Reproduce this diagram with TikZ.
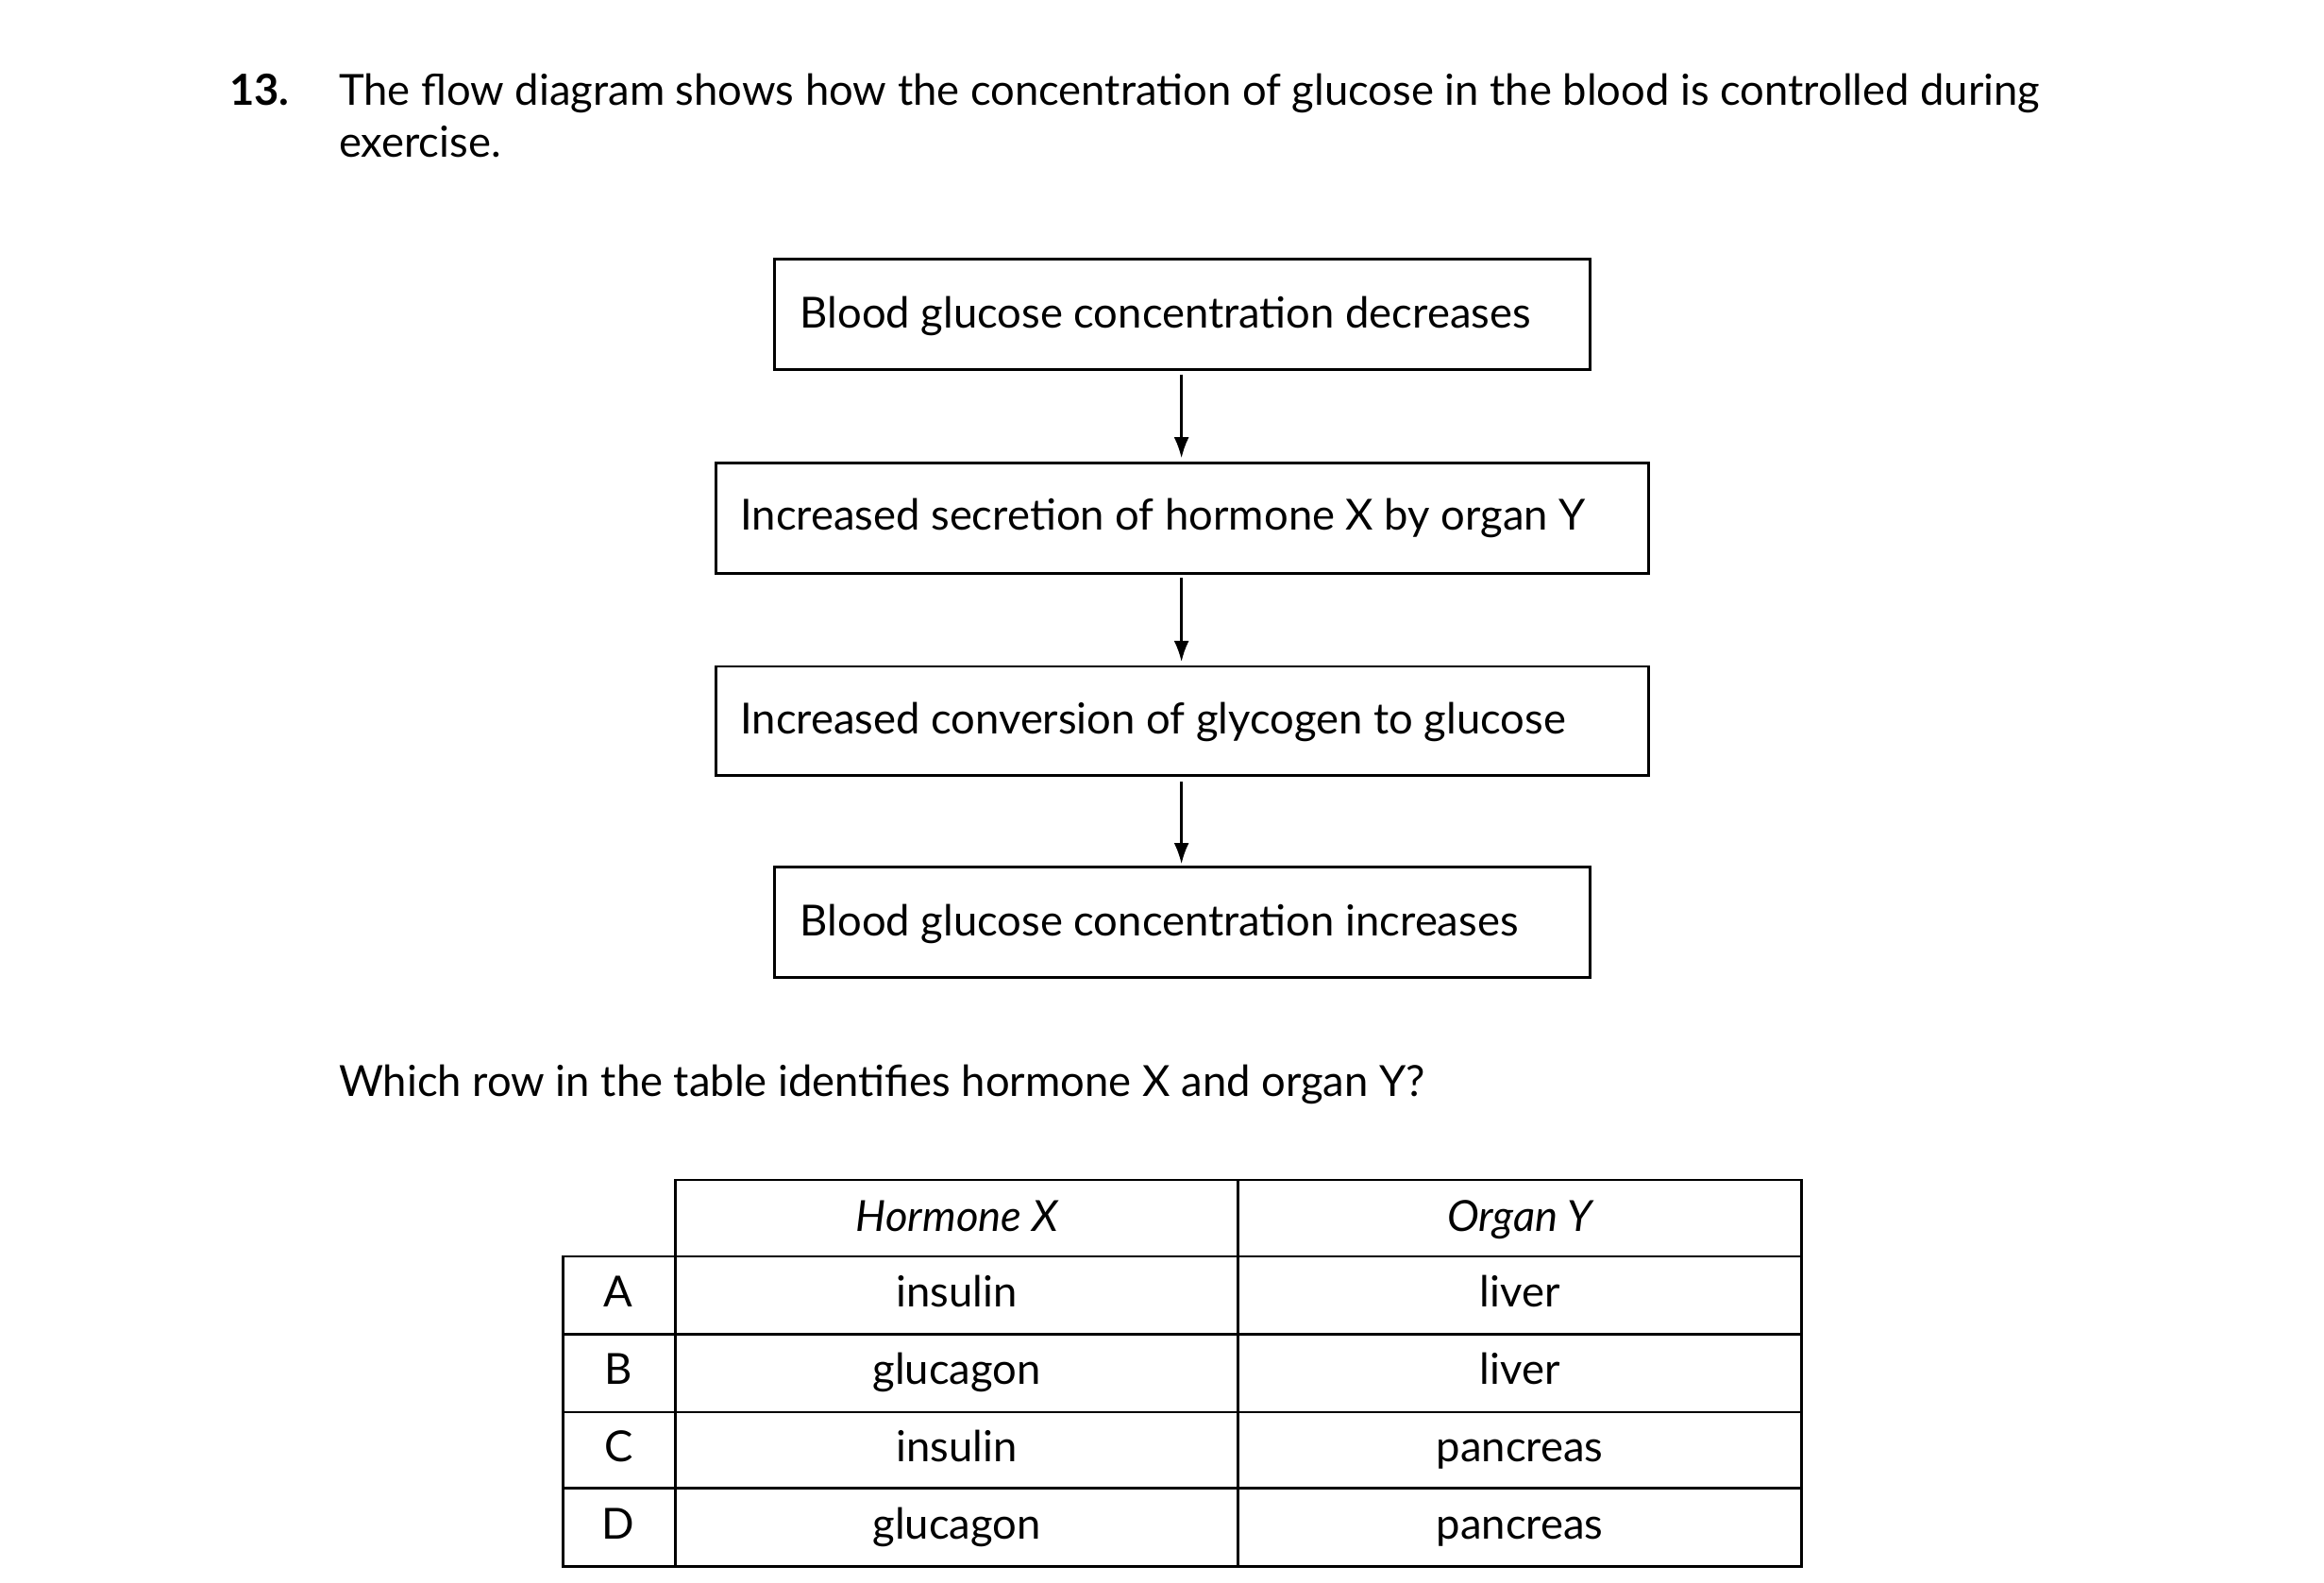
\documentclass[tikz,border=0pt]{standalone}
\usepackage{fontspec}
\setmainfont{Lato}
\usetikzlibrary{arrows.meta}
\begin{document}
\begin{tikzpicture}[x=0.5pt,y=-0.5pt,
  txt/.style={font=\fontsize{14.3}{17}\selectfont,inner sep=0pt},
  arr/.style={-{Latex[length=7pt,width=5pt]},line width=0.8pt}]
\useasboundingbox (0,0) rectangle (1552,1057);
\node[txt,anchor=base west,font=\fontsize{14.3}{17}\selectfont\bfseries] (num) at (153,70) {13.};
\node[txt,anchor=base west] (l1) at (226,70) {The flow diagram shows how the concentration of glucose in the blood is controlled during};
\node[txt,anchor=base west] (l2) at (226,105) {exercise.};
\draw[line width=0.9pt] (517,173) rectangle (1062,247);
\draw[line width=0.9pt] (478,309) rectangle (1101,383);
\draw[line width=0.9pt] (478,445) rectangle (1101,518);
\draw[line width=0.9pt] (517,579) rectangle (1062,653);
\node[txt,anchor=base west] (b1) at (534,219) {Blood glucose concentration decreases};
\node[txt,anchor=base west] (b2) at (494,354) {Increased secretion of hormone X by organ Y};
\node[txt,anchor=base west] (b3) at (494,490) {Increased conversion of glycogen to glucose};
\node[txt,anchor=base west] (b4) at (534,625) {Blood glucose concentration increases};
\coordinate (a1) at (789,250); \coordinate (a2) at (789,306);
\coordinate (a3) at (789,386); \coordinate (a4) at (789,442);
\coordinate (a5) at (789,522); \coordinate (a6) at (789,577);
\draw[arr] (a1)--(a2); \draw[arr] (a3)--(a4); \draw[arr] (a5)--(a6);
\node[txt,anchor=base west] (q) at (226,732) {Which row in the table identifies hormone X and organ Y?};
\draw[line width=0.9pt] (451,788) rectangle (1203,1046);
\draw[line width=0.9pt] (376,839) rectangle (451,1046);
\draw[line width=0.9pt] (827,788)--(827,1046);
\foreach \y in {839,891,943,994} \draw[line width=0.9pt] (376,\y)--(1203,\y);
\node[txt,anchor=base,font=\fontsize{14.3}{17}\selectfont\itshape] (h1) at (639,822) {Hormone X};
\node[txt,anchor=base,font=\fontsize{14.3}{17}\selectfont\itshape] (h2) at (1015,822) {Organ Y};
\foreach \l/\h/\o [count=\i] in {A/insulin/liver,B/glucagon/liver,C/insulin/pancreas,D/glucagon/pancreas}{
  \pgfmathsetmacro\yy{873+51.7*(\i-1)}
  \node[txt,anchor=base] (r\i a) at (413,\yy) {\l};
  \node[txt,anchor=base] (r\i b) at (639,\yy) {\h};
  \node[txt,anchor=base] (r\i c) at (1015,\yy) {\o};
}
\end{tikzpicture}
\end{document}
